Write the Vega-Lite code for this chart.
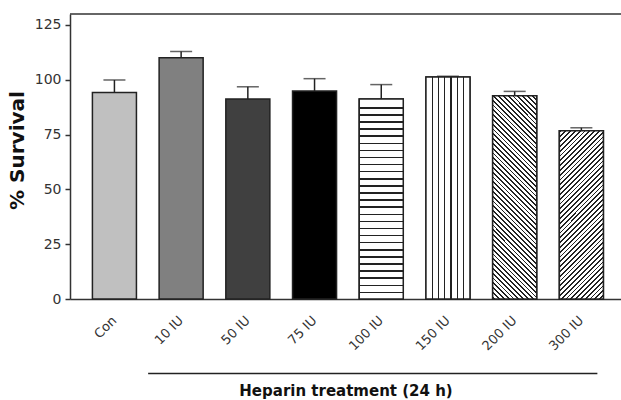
{
"$schema": "https://vega.github.io/schema/vega-lite/v6.json",
"width": 551, "height": 285,
"autosize": {"type": "none"},
"padding": {"left": 70, "top": 14, "right": 0, "bottom": 101},
"background": "white",
"config": {"view": {"stroke": null}, "axis": {"domainColor": "#333", "domainWidth": 1.5, "tickColor": "#333", "tickWidth": 1.5, "labelFont": "DejaVu Sans", "labelFontSize": 14, "labelColor": "#333", "grid": false, "titleColor": "#111"}},
"data": {"values": [
{"group": "Con", "mean": 94.2, "upper": 99.9},
{"group": "10 IU", "mean": 110.0, "upper": 112.9},
{"group": "50 IU", "mean": 91.2, "upper": 96.8},
{"group": "75 IU", "mean": 94.9, "upper": 100.5},
{"group": "100 IU", "mean": 91.2, "upper": 97.8},
{"group": "150 IU", "mean": 101.3, "upper": 101.6},
{"group": "200 IU", "mean": 92.7, "upper": 94.7},
{"group": "300 IU", "mean": 76.8, "upper": 78.1}
]},
"layer": [
{"mark": {"type": "bar", "stroke": "#222", "strokeWidth": 1.5},
 "encoding": {
  "x": {"field": "group", "type": "nominal", "sort": null,
   "scale": {"domain": ["Con","10 IU","50 IU","75 IU","100 IU","150 IU","200 IU","300 IU"], "paddingInner": 0.34, "paddingOuter": 0.3, "align": 0.56},
   "axis": {"labelAngle": -45, "labelAlign": "right", "labelBaseline": "middle", "labelFontSize": 13, "ticks": false, "tickSize": 0, "labelPadding": 19, "labelOverlap": false, "title": "Heparin treatment (24 h)", "titleFont": "DejaVu Sans", "titleFontWeight": "bold", "titleFontSize": 15, "titleY": 91, "titleBaseline": "middle"}},
  "y": {"field": "mean", "type": "quantitative", "scale": {"domain": [0, 130], "nice": false, "zero": false},
   "axis": {"values": [0, 25, 50, 75, 100, 125], "tickSize": 5, "labelPadding": 4, "title": "% Survival", "titleFont": "DejaVu Sans", "titleFontWeight": "bold", "titleFontSize": 20, "titleX": -53, "titleY": 136, "titleAlign": "center", "titleBaseline": "middle", "titleAngle": -90}},
  "fill": {"field": "group", "type": "nominal", "legend": null, "scale": {"domain": ["Con","10 IU","50 IU","75 IU","100 IU","150 IU","200 IU","300 IU"], "range": ["#c0c0c0","#808080","#404040","#000000","#ffffff","#ffffff","#ffffff","#ffffff"]}}
 }},
{"transform": [{"filter": "datum.group === '100 IU'"}],
 "mark": {"type": "bar", "stroke": "#222", "strokeWidth": 1.5,
  "fill": {"gradient": "linear", "x1": 0, "y1": 0, "x2": 0, "y2": 1, "stops": [
{"offset":0,"color":"#fff"},
{"offset":0.0400,"color":"#fff"},{"offset":0.0400,"color":"#222"},{"offset":0.0475,"color":"#222"},{"offset":0.0475,"color":"#fff"},
{"offset":0.0755,"color":"#fff"},{"offset":0.0755,"color":"#222"},{"offset":0.0830,"color":"#222"},{"offset":0.0830,"color":"#fff"},
{"offset":0.1110,"color":"#fff"},{"offset":0.1110,"color":"#222"},{"offset":0.1185,"color":"#222"},{"offset":0.1185,"color":"#fff"},
{"offset":0.1465,"color":"#fff"},{"offset":0.1465,"color":"#222"},{"offset":0.1540,"color":"#222"},{"offset":0.1540,"color":"#fff"},
{"offset":0.1820,"color":"#fff"},{"offset":0.1820,"color":"#222"},{"offset":0.1895,"color":"#222"},{"offset":0.1895,"color":"#fff"},
{"offset":0.2175,"color":"#fff"},{"offset":0.2175,"color":"#222"},{"offset":0.2250,"color":"#222"},{"offset":0.2250,"color":"#fff"},
{"offset":0.2530,"color":"#fff"},{"offset":0.2530,"color":"#222"},{"offset":0.2605,"color":"#222"},{"offset":0.2605,"color":"#fff"},
{"offset":0.2885,"color":"#fff"},{"offset":0.2885,"color":"#222"},{"offset":0.2960,"color":"#222"},{"offset":0.2960,"color":"#fff"},
{"offset":0.3240,"color":"#fff"},{"offset":0.3240,"color":"#222"},{"offset":0.3315,"color":"#222"},{"offset":0.3315,"color":"#fff"},
{"offset":0.3595,"color":"#fff"},{"offset":0.3595,"color":"#222"},{"offset":0.3670,"color":"#222"},{"offset":0.3670,"color":"#fff"},
{"offset":0.3950,"color":"#fff"},{"offset":0.3950,"color":"#222"},{"offset":0.4025,"color":"#222"},{"offset":0.4025,"color":"#fff"},
{"offset":0.4305,"color":"#fff"},{"offset":0.4305,"color":"#222"},{"offset":0.4380,"color":"#222"},{"offset":0.4380,"color":"#fff"},
{"offset":0.4660,"color":"#fff"},{"offset":0.4660,"color":"#222"},{"offset":0.4735,"color":"#222"},{"offset":0.4735,"color":"#fff"},
{"offset":0.5015,"color":"#fff"},{"offset":0.5015,"color":"#222"},{"offset":0.5090,"color":"#222"},{"offset":0.5090,"color":"#fff"},
{"offset":0.5370,"color":"#fff"},{"offset":0.5370,"color":"#222"},{"offset":0.5445,"color":"#222"},{"offset":0.5445,"color":"#fff"},
{"offset":0.5725,"color":"#fff"},{"offset":0.5725,"color":"#222"},{"offset":0.5800,"color":"#222"},{"offset":0.5800,"color":"#fff"},
{"offset":0.6080,"color":"#fff"},{"offset":0.6080,"color":"#222"},{"offset":0.6155,"color":"#222"},{"offset":0.6155,"color":"#fff"},
{"offset":0.6435,"color":"#fff"},{"offset":0.6435,"color":"#222"},{"offset":0.6510,"color":"#222"},{"offset":0.6510,"color":"#fff"},
{"offset":0.6790,"color":"#fff"},{"offset":0.6790,"color":"#222"},{"offset":0.6865,"color":"#222"},{"offset":0.6865,"color":"#fff"},
{"offset":0.7145,"color":"#fff"},{"offset":0.7145,"color":"#222"},{"offset":0.7220,"color":"#222"},{"offset":0.7220,"color":"#fff"},
{"offset":0.7500,"color":"#fff"},{"offset":0.7500,"color":"#222"},{"offset":0.7575,"color":"#222"},{"offset":0.7575,"color":"#fff"},
{"offset":0.7855,"color":"#fff"},{"offset":0.7855,"color":"#222"},{"offset":0.7930,"color":"#222"},{"offset":0.7930,"color":"#fff"},
{"offset":0.8210,"color":"#fff"},{"offset":0.8210,"color":"#222"},{"offset":0.8285,"color":"#222"},{"offset":0.8285,"color":"#fff"},
{"offset":0.8565,"color":"#fff"},{"offset":0.8565,"color":"#222"},{"offset":0.8640,"color":"#222"},{"offset":0.8640,"color":"#fff"},
{"offset":0.8920,"color":"#fff"},{"offset":0.8920,"color":"#222"},{"offset":0.8995,"color":"#222"},{"offset":0.8995,"color":"#fff"},
{"offset":0.9275,"color":"#fff"},{"offset":0.9275,"color":"#222"},{"offset":0.9350,"color":"#222"},{"offset":0.9350,"color":"#fff"},
{"offset":0.9630,"color":"#fff"},{"offset":0.9630,"color":"#222"},{"offset":0.9705,"color":"#222"},{"offset":0.9705,"color":"#fff"},
{"offset":1,"color":"#fff"}
  ]}},
 "encoding": {
  "x": {"field": "group", "type": "nominal", "sort": null, "scale": {"domain": ["Con","10 IU","50 IU","75 IU","100 IU","150 IU","200 IU","300 IU"], "paddingInner": 0.34, "paddingOuter": 0.3, "align": 0.56}},
  "y": {"field": "mean", "type": "quantitative", "scale": {"domain": [0, 130], "nice": false, "zero": false}}
 }},
{"transform": [{"filter": "datum.group === '150 IU'"}],
 "mark": {"type": "bar", "stroke": "#222", "strokeWidth": 1.5,
  "fill": {"gradient": "linear", "x1": 0, "y1": 0, "x2": 1, "y2": 0, "stops": [
{"offset":0,"color":"#fff"},
{"offset":0.128,"color":"#fff"},{"offset":0.128,"color":"#222"},{"offset":0.158,"color":"#222"},{"offset":0.158,"color":"#fff"},
{"offset":0.271,"color":"#fff"},{"offset":0.271,"color":"#222"},{"offset":0.301,"color":"#222"},{"offset":0.301,"color":"#fff"},
{"offset":0.414,"color":"#fff"},{"offset":0.414,"color":"#222"},{"offset":0.444,"color":"#222"},{"offset":0.444,"color":"#fff"},
{"offset":0.556,"color":"#fff"},{"offset":0.556,"color":"#222"},{"offset":0.586,"color":"#222"},{"offset":0.586,"color":"#fff"},
{"offset":0.699,"color":"#fff"},{"offset":0.699,"color":"#222"},{"offset":0.729,"color":"#222"},{"offset":0.729,"color":"#fff"},
{"offset":0.842,"color":"#fff"},{"offset":0.842,"color":"#222"},{"offset":0.872,"color":"#222"},{"offset":0.872,"color":"#fff"},
{"offset":1,"color":"#fff"}
  ]}},
 "encoding": {
  "x": {"field": "group", "type": "nominal", "sort": null, "scale": {"domain": ["Con","10 IU","50 IU","75 IU","100 IU","150 IU","200 IU","300 IU"], "paddingInner": 0.34, "paddingOuter": 0.3, "align": 0.56}},
  "y": {"field": "mean", "type": "quantitative", "scale": {"domain": [0, 130], "nice": false, "zero": false}}
 }},
{"transform": [{"filter": "datum.group === '200 IU'"}],
 "mark": {"type": "bar", "stroke": "#222", "strokeWidth": 1.5,
  "fill": {"gradient": "linear", "x1": 0, "y1": 1, "x2": 0.252, "y2": -0.1622, "stops": [
{"offset":0,"color":"#fff"},
{"offset":0.0050,"color":"#fff"},{"offset":0.0050,"color":"#222"},{"offset":0.0123,"color":"#222"},{"offset":0.0123,"color":"#fff"},
{"offset":0.0244,"color":"#fff"},{"offset":0.0244,"color":"#222"},{"offset":0.0317,"color":"#222"},{"offset":0.0317,"color":"#fff"},
{"offset":0.0439,"color":"#fff"},{"offset":0.0439,"color":"#222"},{"offset":0.0512,"color":"#222"},{"offset":0.0512,"color":"#fff"},
{"offset":0.0633,"color":"#fff"},{"offset":0.0633,"color":"#222"},{"offset":0.0706,"color":"#222"},{"offset":0.0706,"color":"#fff"},
{"offset":0.0828,"color":"#fff"},{"offset":0.0828,"color":"#222"},{"offset":0.0901,"color":"#222"},{"offset":0.0901,"color":"#fff"},
{"offset":0.1022,"color":"#fff"},{"offset":0.1022,"color":"#222"},{"offset":0.1095,"color":"#222"},{"offset":0.1095,"color":"#fff"},
{"offset":0.1216,"color":"#fff"},{"offset":0.1216,"color":"#222"},{"offset":0.1289,"color":"#222"},{"offset":0.1289,"color":"#fff"},
{"offset":0.1411,"color":"#fff"},{"offset":0.1411,"color":"#222"},{"offset":0.1484,"color":"#222"},{"offset":0.1484,"color":"#fff"},
{"offset":0.1605,"color":"#fff"},{"offset":0.1605,"color":"#222"},{"offset":0.1678,"color":"#222"},{"offset":0.1678,"color":"#fff"},
{"offset":0.1800,"color":"#fff"},{"offset":0.1800,"color":"#222"},{"offset":0.1873,"color":"#222"},{"offset":0.1873,"color":"#fff"},
{"offset":0.1994,"color":"#fff"},{"offset":0.1994,"color":"#222"},{"offset":0.2067,"color":"#222"},{"offset":0.2067,"color":"#fff"},
{"offset":0.2188,"color":"#fff"},{"offset":0.2188,"color":"#222"},{"offset":0.2261,"color":"#222"},{"offset":0.2261,"color":"#fff"},
{"offset":0.2383,"color":"#fff"},{"offset":0.2383,"color":"#222"},{"offset":0.2456,"color":"#222"},{"offset":0.2456,"color":"#fff"},
{"offset":0.2577,"color":"#fff"},{"offset":0.2577,"color":"#222"},{"offset":0.2650,"color":"#222"},{"offset":0.2650,"color":"#fff"},
{"offset":0.2772,"color":"#fff"},{"offset":0.2772,"color":"#222"},{"offset":0.2845,"color":"#222"},{"offset":0.2845,"color":"#fff"},
{"offset":0.2966,"color":"#fff"},{"offset":0.2966,"color":"#222"},{"offset":0.3039,"color":"#222"},{"offset":0.3039,"color":"#fff"},
{"offset":0.3160,"color":"#fff"},{"offset":0.3160,"color":"#222"},{"offset":0.3233,"color":"#222"},{"offset":0.3233,"color":"#fff"},
{"offset":0.3355,"color":"#fff"},{"offset":0.3355,"color":"#222"},{"offset":0.3428,"color":"#222"},{"offset":0.3428,"color":"#fff"},
{"offset":0.3549,"color":"#fff"},{"offset":0.3549,"color":"#222"},{"offset":0.3622,"color":"#222"},{"offset":0.3622,"color":"#fff"},
{"offset":0.3744,"color":"#fff"},{"offset":0.3744,"color":"#222"},{"offset":0.3817,"color":"#222"},{"offset":0.3817,"color":"#fff"},
{"offset":0.3938,"color":"#fff"},{"offset":0.3938,"color":"#222"},{"offset":0.4011,"color":"#222"},{"offset":0.4011,"color":"#fff"},
{"offset":0.4132,"color":"#fff"},{"offset":0.4132,"color":"#222"},{"offset":0.4205,"color":"#222"},{"offset":0.4205,"color":"#fff"},
{"offset":0.4327,"color":"#fff"},{"offset":0.4327,"color":"#222"},{"offset":0.4400,"color":"#222"},{"offset":0.4400,"color":"#fff"},
{"offset":0.4521,"color":"#fff"},{"offset":0.4521,"color":"#222"},{"offset":0.4594,"color":"#222"},{"offset":0.4594,"color":"#fff"},
{"offset":0.4716,"color":"#fff"},{"offset":0.4716,"color":"#222"},{"offset":0.4789,"color":"#222"},{"offset":0.4789,"color":"#fff"},
{"offset":0.4910,"color":"#fff"},{"offset":0.4910,"color":"#222"},{"offset":0.4983,"color":"#222"},{"offset":0.4983,"color":"#fff"},
{"offset":0.5104,"color":"#fff"},{"offset":0.5104,"color":"#222"},{"offset":0.5177,"color":"#222"},{"offset":0.5177,"color":"#fff"},
{"offset":0.5299,"color":"#fff"},{"offset":0.5299,"color":"#222"},{"offset":0.5372,"color":"#222"},{"offset":0.5372,"color":"#fff"},
{"offset":0.5493,"color":"#fff"},{"offset":0.5493,"color":"#222"},{"offset":0.5566,"color":"#222"},{"offset":0.5566,"color":"#fff"},
{"offset":0.5688,"color":"#fff"},{"offset":0.5688,"color":"#222"},{"offset":0.5761,"color":"#222"},{"offset":0.5761,"color":"#fff"},
{"offset":0.5882,"color":"#fff"},{"offset":0.5882,"color":"#222"},{"offset":0.5955,"color":"#222"},{"offset":0.5955,"color":"#fff"},
{"offset":0.6076,"color":"#fff"},{"offset":0.6076,"color":"#222"},{"offset":0.6149,"color":"#222"},{"offset":0.6149,"color":"#fff"},
{"offset":0.6271,"color":"#fff"},{"offset":0.6271,"color":"#222"},{"offset":0.6344,"color":"#222"},{"offset":0.6344,"color":"#fff"},
{"offset":0.6465,"color":"#fff"},{"offset":0.6465,"color":"#222"},{"offset":0.6538,"color":"#222"},{"offset":0.6538,"color":"#fff"},
{"offset":0.6660,"color":"#fff"},{"offset":0.6660,"color":"#222"},{"offset":0.6733,"color":"#222"},{"offset":0.6733,"color":"#fff"},
{"offset":0.6854,"color":"#fff"},{"offset":0.6854,"color":"#222"},{"offset":0.6927,"color":"#222"},{"offset":0.6927,"color":"#fff"},
{"offset":0.7048,"color":"#fff"},{"offset":0.7048,"color":"#222"},{"offset":0.7121,"color":"#222"},{"offset":0.7121,"color":"#fff"},
{"offset":0.7243,"color":"#fff"},{"offset":0.7243,"color":"#222"},{"offset":0.7316,"color":"#222"},{"offset":0.7316,"color":"#fff"},
{"offset":0.7437,"color":"#fff"},{"offset":0.7437,"color":"#222"},{"offset":0.7510,"color":"#222"},{"offset":0.7510,"color":"#fff"},
{"offset":0.7632,"color":"#fff"},{"offset":0.7632,"color":"#222"},{"offset":0.7705,"color":"#222"},{"offset":0.7705,"color":"#fff"},
{"offset":0.7826,"color":"#fff"},{"offset":0.7826,"color":"#222"},{"offset":0.7899,"color":"#222"},{"offset":0.7899,"color":"#fff"},
{"offset":0.8020,"color":"#fff"},{"offset":0.8020,"color":"#222"},{"offset":0.8093,"color":"#222"},{"offset":0.8093,"color":"#fff"},
{"offset":0.8215,"color":"#fff"},{"offset":0.8215,"color":"#222"},{"offset":0.8288,"color":"#222"},{"offset":0.8288,"color":"#fff"},
{"offset":0.8409,"color":"#fff"},{"offset":0.8409,"color":"#222"},{"offset":0.8482,"color":"#222"},{"offset":0.8482,"color":"#fff"},
{"offset":0.8604,"color":"#fff"},{"offset":0.8604,"color":"#222"},{"offset":0.8677,"color":"#222"},{"offset":0.8677,"color":"#fff"},
{"offset":0.8798,"color":"#fff"},{"offset":0.8798,"color":"#222"},{"offset":0.8871,"color":"#222"},{"offset":0.8871,"color":"#fff"},
{"offset":0.8992,"color":"#fff"},{"offset":0.8992,"color":"#222"},{"offset":0.9065,"color":"#222"},{"offset":0.9065,"color":"#fff"},
{"offset":0.9187,"color":"#fff"},{"offset":0.9187,"color":"#222"},{"offset":0.9260,"color":"#222"},{"offset":0.9260,"color":"#fff"},
{"offset":0.9381,"color":"#fff"},{"offset":0.9381,"color":"#222"},{"offset":0.9454,"color":"#222"},{"offset":0.9454,"color":"#fff"},
{"offset":0.9576,"color":"#fff"},{"offset":0.9576,"color":"#222"},{"offset":0.9649,"color":"#222"},{"offset":0.9649,"color":"#fff"},
{"offset":0.9770,"color":"#fff"},{"offset":0.9770,"color":"#222"},{"offset":0.9843,"color":"#222"},{"offset":0.9843,"color":"#fff"},
{"offset":1,"color":"#fff"}
  ]}},
 "encoding": {
  "x": {"field": "group", "type": "nominal", "sort": null, "scale": {"domain": ["Con","10 IU","50 IU","75 IU","100 IU","150 IU","200 IU","300 IU"], "paddingInner": 0.34, "paddingOuter": 0.3, "align": 0.56}},
  "y": {"field": "mean", "type": "quantitative", "scale": {"domain": [0, 130], "nice": false, "zero": false}}
 }},
{"transform": [{"filter": "datum.group === '300 IU'"}],
 "mark": {"type": "bar", "stroke": "#222", "strokeWidth": 1.5,
  "fill": {"gradient": "linear", "x1": 0, "y1": 0, "x2": 0.3091, "y2": 1.1809, "stops": [
{"offset":0,"color":"#fff"},
{"offset":0.0050,"color":"#fff"},{"offset":0.0050,"color":"#222"},{"offset":0.0135,"color":"#222"},{"offset":0.0135,"color":"#fff"},
{"offset":0.0276,"color":"#fff"},{"offset":0.0276,"color":"#222"},{"offset":0.0361,"color":"#222"},{"offset":0.0361,"color":"#fff"},
{"offset":0.0503,"color":"#fff"},{"offset":0.0503,"color":"#222"},{"offset":0.0588,"color":"#222"},{"offset":0.0588,"color":"#fff"},
{"offset":0.0729,"color":"#fff"},{"offset":0.0729,"color":"#222"},{"offset":0.0814,"color":"#222"},{"offset":0.0814,"color":"#fff"},
{"offset":0.0955,"color":"#fff"},{"offset":0.0955,"color":"#222"},{"offset":0.1040,"color":"#222"},{"offset":0.1040,"color":"#fff"},
{"offset":0.1182,"color":"#fff"},{"offset":0.1182,"color":"#222"},{"offset":0.1267,"color":"#222"},{"offset":0.1267,"color":"#fff"},
{"offset":0.1408,"color":"#fff"},{"offset":0.1408,"color":"#222"},{"offset":0.1493,"color":"#222"},{"offset":0.1493,"color":"#fff"},
{"offset":0.1634,"color":"#fff"},{"offset":0.1634,"color":"#222"},{"offset":0.1719,"color":"#222"},{"offset":0.1719,"color":"#fff"},
{"offset":0.1860,"color":"#fff"},{"offset":0.1860,"color":"#222"},{"offset":0.1945,"color":"#222"},{"offset":0.1945,"color":"#fff"},
{"offset":0.2087,"color":"#fff"},{"offset":0.2087,"color":"#222"},{"offset":0.2172,"color":"#222"},{"offset":0.2172,"color":"#fff"},
{"offset":0.2313,"color":"#fff"},{"offset":0.2313,"color":"#222"},{"offset":0.2398,"color":"#222"},{"offset":0.2398,"color":"#fff"},
{"offset":0.2539,"color":"#fff"},{"offset":0.2539,"color":"#222"},{"offset":0.2624,"color":"#222"},{"offset":0.2624,"color":"#fff"},
{"offset":0.2766,"color":"#fff"},{"offset":0.2766,"color":"#222"},{"offset":0.2851,"color":"#222"},{"offset":0.2851,"color":"#fff"},
{"offset":0.2992,"color":"#fff"},{"offset":0.2992,"color":"#222"},{"offset":0.3077,"color":"#222"},{"offset":0.3077,"color":"#fff"},
{"offset":0.3218,"color":"#fff"},{"offset":0.3218,"color":"#222"},{"offset":0.3303,"color":"#222"},{"offset":0.3303,"color":"#fff"},
{"offset":0.3445,"color":"#fff"},{"offset":0.3445,"color":"#222"},{"offset":0.3530,"color":"#222"},{"offset":0.3530,"color":"#fff"},
{"offset":0.3671,"color":"#fff"},{"offset":0.3671,"color":"#222"},{"offset":0.3756,"color":"#222"},{"offset":0.3756,"color":"#fff"},
{"offset":0.3897,"color":"#fff"},{"offset":0.3897,"color":"#222"},{"offset":0.3982,"color":"#222"},{"offset":0.3982,"color":"#fff"},
{"offset":0.4123,"color":"#fff"},{"offset":0.4123,"color":"#222"},{"offset":0.4208,"color":"#222"},{"offset":0.4208,"color":"#fff"},
{"offset":0.4350,"color":"#fff"},{"offset":0.4350,"color":"#222"},{"offset":0.4435,"color":"#222"},{"offset":0.4435,"color":"#fff"},
{"offset":0.4576,"color":"#fff"},{"offset":0.4576,"color":"#222"},{"offset":0.4661,"color":"#222"},{"offset":0.4661,"color":"#fff"},
{"offset":0.4802,"color":"#fff"},{"offset":0.4802,"color":"#222"},{"offset":0.4887,"color":"#222"},{"offset":0.4887,"color":"#fff"},
{"offset":0.5029,"color":"#fff"},{"offset":0.5029,"color":"#222"},{"offset":0.5114,"color":"#222"},{"offset":0.5114,"color":"#fff"},
{"offset":0.5255,"color":"#fff"},{"offset":0.5255,"color":"#222"},{"offset":0.5340,"color":"#222"},{"offset":0.5340,"color":"#fff"},
{"offset":0.5481,"color":"#fff"},{"offset":0.5481,"color":"#222"},{"offset":0.5566,"color":"#222"},{"offset":0.5566,"color":"#fff"},
{"offset":0.5708,"color":"#fff"},{"offset":0.5708,"color":"#222"},{"offset":0.5793,"color":"#222"},{"offset":0.5793,"color":"#fff"},
{"offset":0.5934,"color":"#fff"},{"offset":0.5934,"color":"#222"},{"offset":0.6019,"color":"#222"},{"offset":0.6019,"color":"#fff"},
{"offset":0.6160,"color":"#fff"},{"offset":0.6160,"color":"#222"},{"offset":0.6245,"color":"#222"},{"offset":0.6245,"color":"#fff"},
{"offset":0.6386,"color":"#fff"},{"offset":0.6386,"color":"#222"},{"offset":0.6471,"color":"#222"},{"offset":0.6471,"color":"#fff"},
{"offset":0.6613,"color":"#fff"},{"offset":0.6613,"color":"#222"},{"offset":0.6698,"color":"#222"},{"offset":0.6698,"color":"#fff"},
{"offset":0.6839,"color":"#fff"},{"offset":0.6839,"color":"#222"},{"offset":0.6924,"color":"#222"},{"offset":0.6924,"color":"#fff"},
{"offset":0.7065,"color":"#fff"},{"offset":0.7065,"color":"#222"},{"offset":0.7150,"color":"#222"},{"offset":0.7150,"color":"#fff"},
{"offset":0.7292,"color":"#fff"},{"offset":0.7292,"color":"#222"},{"offset":0.7377,"color":"#222"},{"offset":0.7377,"color":"#fff"},
{"offset":0.7518,"color":"#fff"},{"offset":0.7518,"color":"#222"},{"offset":0.7603,"color":"#222"},{"offset":0.7603,"color":"#fff"},
{"offset":0.7744,"color":"#fff"},{"offset":0.7744,"color":"#222"},{"offset":0.7829,"color":"#222"},{"offset":0.7829,"color":"#fff"},
{"offset":0.7971,"color":"#fff"},{"offset":0.7971,"color":"#222"},{"offset":0.8056,"color":"#222"},{"offset":0.8056,"color":"#fff"},
{"offset":0.8197,"color":"#fff"},{"offset":0.8197,"color":"#222"},{"offset":0.8282,"color":"#222"},{"offset":0.8282,"color":"#fff"},
{"offset":0.8423,"color":"#fff"},{"offset":0.8423,"color":"#222"},{"offset":0.8508,"color":"#222"},{"offset":0.8508,"color":"#fff"},
{"offset":0.8649,"color":"#fff"},{"offset":0.8649,"color":"#222"},{"offset":0.8734,"color":"#222"},{"offset":0.8734,"color":"#fff"},
{"offset":0.8876,"color":"#fff"},{"offset":0.8876,"color":"#222"},{"offset":0.8961,"color":"#222"},{"offset":0.8961,"color":"#fff"},
{"offset":0.9102,"color":"#fff"},{"offset":0.9102,"color":"#222"},{"offset":0.9187,"color":"#222"},{"offset":0.9187,"color":"#fff"},
{"offset":0.9328,"color":"#fff"},{"offset":0.9328,"color":"#222"},{"offset":0.9413,"color":"#222"},{"offset":0.9413,"color":"#fff"},
{"offset":0.9555,"color":"#fff"},{"offset":0.9555,"color":"#222"},{"offset":0.9640,"color":"#222"},{"offset":0.9640,"color":"#fff"},
{"offset":0.9781,"color":"#fff"},{"offset":0.9781,"color":"#222"},{"offset":0.9866,"color":"#222"},{"offset":0.9866,"color":"#fff"},
{"offset":1,"color":"#fff"}
  ]}},
 "encoding": {
  "x": {"field": "group", "type": "nominal", "sort": null, "scale": {"domain": ["Con","10 IU","50 IU","75 IU","100 IU","150 IU","200 IU","300 IU"], "paddingInner": 0.34, "paddingOuter": 0.3, "align": 0.56}},
  "y": {"field": "mean", "type": "quantitative", "scale": {"domain": [0, 130], "nice": false, "zero": false}}
 }},
{"mark": {"type": "rule", "color": "#222", "strokeWidth": 1.5},
 "encoding": {
  "x": {"field": "group", "type": "nominal", "sort": null, "scale": {"domain": ["Con","10 IU","50 IU","75 IU","100 IU","150 IU","200 IU","300 IU"], "paddingInner": 0.34, "paddingOuter": 0.3, "align": 0.56}},
  "y": {"field": "mean", "type": "quantitative", "scale": {"domain": [0, 130], "nice": false, "zero": false}},
  "y2": {"field": "upper"}
 }},
{"mark": {"type": "tick", "color": "#222", "size": 22, "thickness": 1.5, "orient": "horizontal"},
 "encoding": {
  "x": {"field": "group", "type": "nominal", "sort": null, "scale": {"domain": ["Con","10 IU","50 IU","75 IU","100 IU","150 IU","200 IU","300 IU"], "paddingInner": 0.34, "paddingOuter": 0.3, "align": 0.56}},
  "y": {"field": "upper", "type": "quantitative", "scale": {"domain": [0, 130], "nice": false, "zero": false}}
 }},
{"data": {"values": [{"edge": "top"}]},
 "mark": {"type": "rule", "color": "#333", "strokeWidth": 1.5},
 "encoding": {
  "y": {"datum": 130, "type": "quantitative", "scale": {"domain": [0, 130], "nice": false, "zero": false}}
 }},
{"data": {"values": [{"start": "10 IU", "end": "300 IU"}]},
 "mark": {"type": "rule", "color": "#222", "strokeWidth": 1.5, "xOffset": -33, "x2Offset": 16},
 "encoding": {
  "x": {"field": "start", "type": "nominal", "sort": null, "scale": {"domain": ["Con","10 IU","50 IU","75 IU","100 IU","150 IU","200 IU","300 IU"], "paddingInner": 0.34, "paddingOuter": 0.3, "align": 0.56}},
  "x2": {"field": "end"},
  "y": {"datum": -34, "type": "quantitative", "scale": {"domain": [0, 130], "nice": false, "zero": false}}
 }}
]
}
